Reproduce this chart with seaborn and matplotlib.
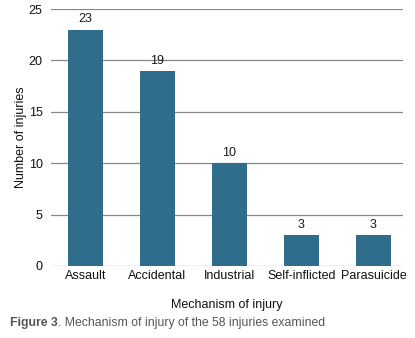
import matplotlib
matplotlib.use("Agg")
import matplotlib.pyplot as plt
import seaborn as sns
import pandas as pd

categories = ["Assault", "Accidental", "Industrial", "Self-inflicted", "Parasuicide"]
values = [23, 19, 10, 3, 3]
yticks = [0, 5, 10, 15, 20, 25]

sns.set_theme(style="white")
plt.rcParams['font.family'] = ['Liberation Sans', 'DejaVu Sans']

W, H = 415, 338
FS = 9.0
fig = plt.figure(figsize=(W / 100, H / 100), dpi=100)
ax = fig.add_axes([51 / W, (H - 266) / H, (403 - 51) / W, (266 - 9) / H])

df = pd.DataFrame({"Mechanism": categories, "Count": values})
sns.barplot(data=df, x="Mechanism", y="Count", color="#2e6d8c", saturation=1,
            width=0.49, ax=ax, zorder=3, linewidth=0, edgecolor="none")

ax.set_ylim(0, 25)
ax.set_yticks(yticks)
ax.set_xlim(-0.479, 4.41)
ax.yaxis.grid(True, color="#888888", linewidth=0.9, zorder=0)
ax.set_axisbelow(True)
for s in ax.spines.values():
    s.set_visible(False)
ax.tick_params(axis="both", length=0, labelsize=FS, colors="#111111")
ax.tick_params(axis="y", pad=6)
ax.tick_params(axis="x", pad=3)

for c in ax.containers:
    ax.bar_label(c, labels=[str(v) for v in values], padding=3, fontsize=FS, color="#1a1a1a")

ax.set_xlabel("Mechanism of injury", fontsize=FS, color="#111111", labelpad=12)
ax.set_ylabel("Number of injuries", fontsize=FS, color="#111111", labelpad=1)

y_cap = 1 - 323 / H
t1 = fig.text(10 / W, y_cap, "Figure 3", fontsize=8.8, color="#555555",
              fontweight="bold", va="center", ha="left")
fig.canvas.draw()
bb = t1.get_window_extent(fig.canvas.get_renderer())
fig.text(bb.x1 / (W), y_cap, ". Mechanism of injury of the 58 injuries examined",
         fontsize=8.8, color="#555555", va="center", ha="left")

fig.savefig("out.png", dpi=100)
